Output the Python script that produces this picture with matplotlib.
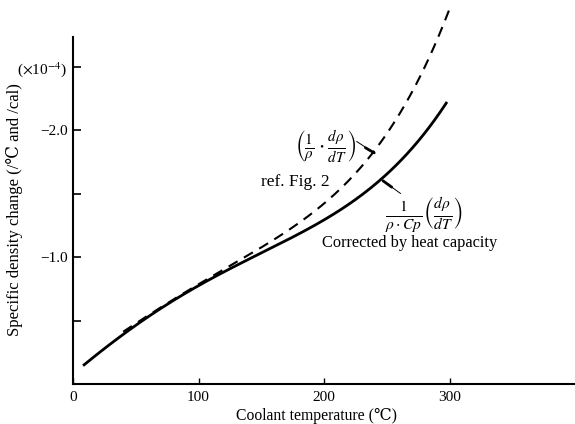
import matplotlib
matplotlib.use("Agg")
import matplotlib.pyplot as plt
import numpy as np

plt.rcParams['font.family'] = ['Liberation Serif', 'DejaVu Serif']
plt.rcParams['mathtext.fontset'] = 'stix'

# Coolant temperature (°C) and specific density change (x1e-4)
temp_corrected = [8, 25, 50, 75, 100, 125, 150, 175, 200, 225, 250, 275, 298]
val_corrected = [-0.14, -0.28, -0.47, -0.63, -0.77, -0.90, -1.02, -1.16, -1.31, -1.46, -1.64, -1.90, -2.23]

temp_ref = [40, 50, 75, 100, 125, 150, 175, 200, 225, 250, 275, 300]
val_ref = [-0.42, -0.47, -0.63, -0.78, -0.93, -1.08, -1.26, -1.42, -1.62, -1.95, -2.45, -2.93]

xticks = [0, 100, 200, 300]
xticklabels = ["0", "100", "200", "300"]
yticks = [-0.5, -1.0, -1.5, -2.0, -2.5]
yticklabels = ["", "\u22121.0", "", "\u22122.0", r"($\times$10$^{-4}$)"]

fig = plt.figure(figsize=(5.75, 4.24), dpi=100)
ax = fig.add_axes([73/575, 1 - 384/424, 1 - 73/575, 384/424])

def smooth(x, y):
    xs = np.linspace(x[0], x[-1], 200)
    c = np.polyfit(x, y, 4)
    return xs, np.polyval(c, xs)

xs, ys = smooth(temp_corrected, val_corrected)
ax.plot(xs, ys, color='black', lw=2.0, solid_capstyle='butt', clip_on=False)
xs2, ys2 = smooth(temp_ref, val_ref)
ax.plot(xs2, ys2, color='black', lw=1.5, dashes=(5, 3.5), clip_on=False)

ax.set_xlim(0, 400)
ax.set_ylim(0, -384/127)

for s in ['top', 'right']:
    ax.spines[s].set_visible(False)
ax.spines['left'].set_bounds(0, -2.73)
ax.spines['left'].set_linewidth(1.5)
ax.spines['bottom'].set_linewidth(1.5)

ax.set_xticks(xticks)
ax.set_xticklabels(xticklabels)
ax.set_yticks(yticks)
ax.set_yticklabels(yticklabels)
ax.tick_params(axis='x', direction='in', length=4, width=1, pad=5, labelsize=11)
ax.tick_params(axis='y', direction='in', length=6, width=1.2, pad=4, labelsize=11)

ax.set_xlabel("Coolant temperature (\u2103)", fontsize=11.3)
ax.xaxis.set_label_coords((316-73)/502, -0.062)
ax.set_ylabel("Specific density change (/\u2103 and /cal)", fontsize=12)
ax.yaxis.set_label_coords(-0.10, 0.453)

# annotations
ax.text(201.6, -1.87, r"$\left(\frac{1}{\rho}\cdot\frac{d\rho}{dT}\right)$",
        fontsize=15.5, ha='center', va='center')
ax.text(177, -1.59, "ref. Fig. 2", fontsize=12.5, ha='center', va='center')
ax.text(280, -1.33, r"$\frac{1}{\rho\cdot Cp}\left(\frac{d\rho}{dT}\right)$",
        fontsize=16, ha='center', va='center')
ax.text(268.5, -1.11, "Corrected by heat capacity", fontsize=11.8, ha='center', va='center')

ax.annotate("", xy=(240, -1.82), xytext=(226, -1.91),
            arrowprops=dict(arrowstyle='-', lw=0.7, color='black', shrinkA=0, shrinkB=0))
ax.annotate("", xy=(240, -1.82), xytext=(233, -1.86),
            arrowprops=dict(arrowstyle='-', lw=2.0, color='black', shrinkA=0, shrinkB=0))
ax.annotate("", xy=(247, -1.60), xytext=(261, -1.50),
            arrowprops=dict(arrowstyle='-', lw=0.7, color='black', shrinkA=0, shrinkB=0))
ax.annotate("", xy=(247, -1.60), xytext=(254, -1.55),
            arrowprops=dict(arrowstyle='-', lw=2.0, color='black', shrinkA=0, shrinkB=0))

fig.savefig("out.png", dpi=100)
